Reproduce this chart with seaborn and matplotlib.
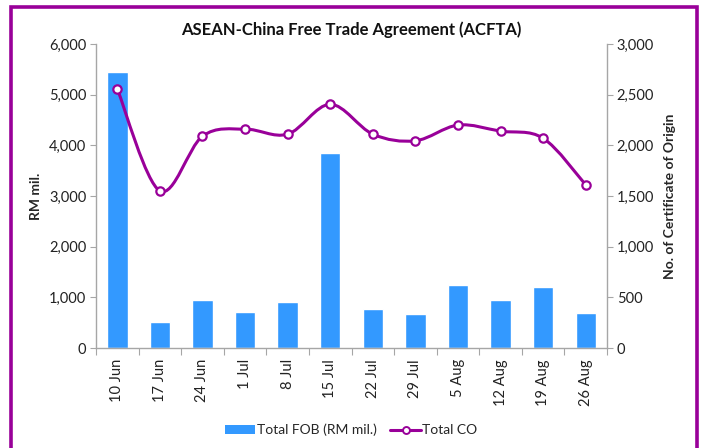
import numpy as np
import pandas as pd
import matplotlib
matplotlib.use("Agg")
import matplotlib.pyplot as plt
import seaborn as sns
from matplotlib.path import Path
from matplotlib.patches import PathPatch, Patch, Rectangle
from matplotlib.lines import Line2D
from matplotlib.ticker import FuncFormatter, FixedLocator

# data
weeks = ['10 Jun', '17 Jun', '24 Jun', '1 Jul', '8 Jul', '15 Jul',
         '22 Jul', '29 Jul', '5 Aug', '12 Aug', '19 Aug', '26 Aug']
total_fob = [5440, 515, 945, 710, 905, 3850, 770, 675, 1240, 945, 1205, 690]
total_co = [2555, 1550, 2090, 2160, 2110, 2405, 2110, 2045, 2200, 2140, 2070, 1610]

df = pd.DataFrame({'week': weeks, 'fob': total_fob, 'co': total_co})

bar_color = '#3399FF'
line_color = '#990099'
grey = '#A6A6A6'

sns.set_theme(style='white')
plt.rcParams['font.family'] = ['Lato', 'DejaVu Sans']

fig = plt.figure(figsize=(7.02, 4.48), dpi=100)
ax = fig.add_axes([0.1368, 0.2232, 0.7279, 0.6786])

sns.barplot(data=df, x='week', y='fob', color=bar_color, width=0.48,
            saturation=1, ax=ax)
ax.set_ylim(0, 6000)
ax.set_xlim(-0.5, len(weeks) - 0.5)
ax.yaxis.set_major_locator(FixedLocator(range(0, 6001, 1000)))
ax.yaxis.set_major_formatter(FuncFormatter(lambda v, p: f'{int(v):,}'))

ax2 = ax.twinx()
ax2.set_ylim(0, 3000)
ax2.yaxis.set_major_locator(FixedLocator(range(0, 3001, 500)))
ax2.yaxis.set_major_formatter(FuncFormatter(lambda v, p: f'{int(v):,}'))

# smoothed line (Excel style bezier through the points)
x = np.arange(len(weeks), dtype=float)
y = np.array(total_co, dtype=float)
pts = np.column_stack([x, y])
verts = [pts[0]]
codes = [Path.MOVETO]
n = len(pts)
for i in range(n - 1):
    p0 = pts[i - 1] if i > 0 else pts[i]
    p1 = pts[i]
    p2 = pts[i + 1]
    p3 = pts[i + 2] if i + 2 < n else pts[i + 1]
    verts += [p1 + (p2 - p0) / 6, p2 - (p3 - p1) / 6, p2]
    codes += [Path.CURVE4] * 3
ax2.add_patch(PathPatch(Path(verts, codes), fill=False, edgecolor=line_color,
                        lw=2.2, zorder=3))
sns.lineplot(x=x, y=y, ax=ax2, linestyle='', marker='o', markersize=6,
             markerfacecolor='white', markeredgecolor=line_color,
             markeredgewidth=1.6, zorder=4)

# axes styling
for a in (ax, ax2):
    a.spines['top'].set_visible(False)
    for s in ('left', 'right', 'bottom'):
        a.spines[s].set_color(grey)
        a.spines[s].set_linewidth(1.0)
ax.spines['right'].set_visible(False)
ax2.spines['left'].set_visible(False)
ax2.spines['bottom'].set_visible(False)

ax.tick_params(axis='y', which='major', direction='out', length=4, width=0.8,
               color=grey, labelsize=10.5, labelcolor='#222222', pad=3, left=True)
ax2.tick_params(axis='y', which='major', direction='out', length=4, width=0.8,
                color=grey, labelsize=10.5, labelcolor='#222222', pad=3, right=True)
ax.set_xticks(x)
ax.set_xticklabels(weeks, rotation=90)
ax.set_xticks(np.arange(-0.5, len(weeks)), minor=True)
ax.tick_params(axis='x', which='major', length=0, labelsize=10.5,
               labelcolor='#222222', pad=8)
ax.tick_params(axis='x', which='minor', direction='out', length=5, width=0.8,
               color=grey, bottom=True)

ax.set_xlabel('')
ax.set_ylabel('RM mil.', fontsize=10, fontweight='bold', labelpad=5)
ax2.set_ylabel('No. of Certificate of Origin', fontsize=10, fontweight='bold',
               labelpad=7)

fig.text(0.5, 0.933, 'ASEAN-China Free Trade Agreement (ACFTA)', ha='center',
         va='center', fontsize=12, fontweight='bold', color='#111111')

handles = [Patch(facecolor=bar_color, edgecolor='none'),
           Line2D([], [], color=line_color, lw=2.2, marker='o', markersize=5,
                  markerfacecolor='white', markeredgecolor=line_color,
                  markeredgewidth=1.4)]
fig.legend(handles, ['Total FOB (RM mil.)', 'Total CO'], loc='center',
           bbox_to_anchor=(0.5, 0.04), ncol=2, frameon=False, fontsize=10,
           handlelength=2.2, handleheight=0.6, handletextpad=0.1,
           columnspacing=1.0)

# purple frame around the chart
fig.patches.append(Rectangle((0.0157, -0.02), 0.977, 1.004,
                             transform=fig.transFigure, fill=False,
                             edgecolor=line_color, lw=2.6))

fig.savefig('out.png', dpi=100)
